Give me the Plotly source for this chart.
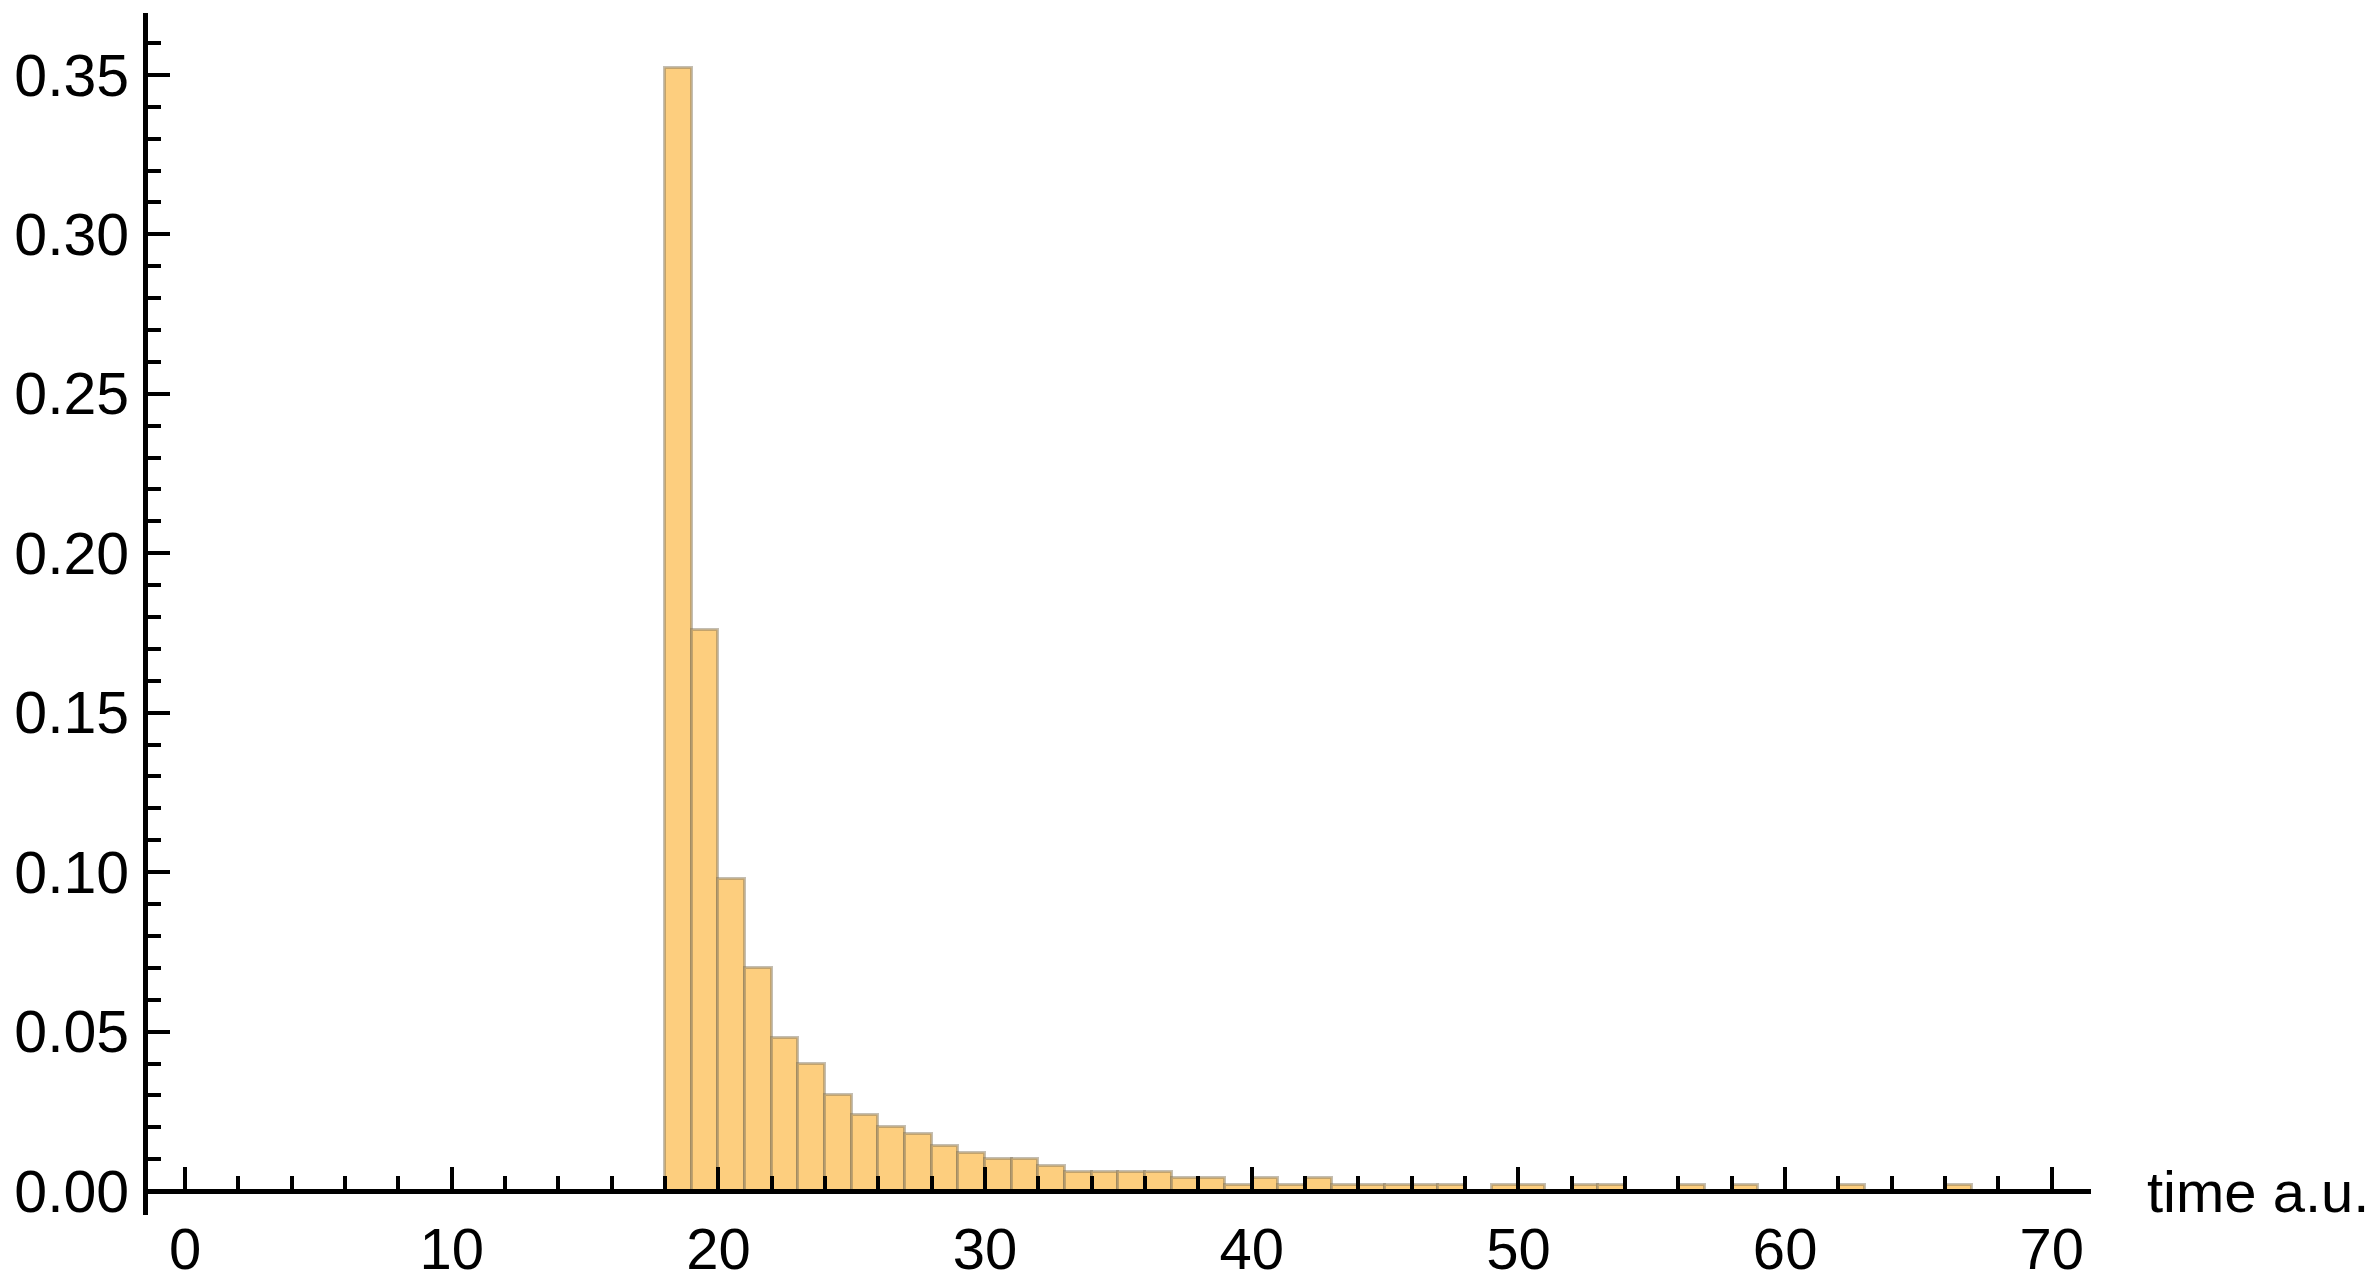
import plotly.graph_objects as go

# Histogram data (bin width 1, left edges) — fraction of samples per bin
bin_left = list(range(18, 67))
bin_frac = [
    0.352, 0.176, 0.098, 0.070, 0.048, 0.040, 0.030, 0.024, 0.020, 0.018,  # 18-27
    0.014, 0.012, 0.010, 0.010, 0.008, 0.006, 0.006, 0.006, 0.006, 0.004,  # 28-37
    0.004, 0.002, 0.004, 0.002, 0.004, 0.002, 0.002, 0.002, 0.002, 0.002,  # 38-47
    0.000, 0.002, 0.002, 0.000, 0.002, 0.002, 0.000, 0.000, 0.002, 0.000,  # 48-57
    0.002, 0.000, 0.000, 0.000, 0.002, 0.000, 0.000, 0.000, 0.002,         # 58-66
]
bin_width = 1.0

x_tickvals = [0, 10, 20, 30, 40, 50, 60, 70]
y_tickvals = [0.00, 0.05, 0.10, 0.15, 0.20, 0.25, 0.30, 0.35]
y_ticktext = ["0.00", "0.05", "0.10", "0.15", "0.20", "0.25", "0.30", "0.35"]
x_label = "time a.u."

xs = [l + bin_width / 2 for l, v in zip(bin_left, bin_frac) if v > 0]
ys = [v for v in bin_frac if v > 0]

FONT = "Liberation Sans, Arial, sans-serif"
FS = 58

fig = go.Figure()
fig.add_trace(go.Bar(
    x=xs, y=ys, width=bin_width,
    marker=dict(color="#FDCE7E", line=dict(color="rgba(125,110,85,0.45)", width=3)),
    hoverinfo="skip",
))

y_lo, y_hi = -0.0075, 0.3694
x_pos = (0 - y_lo) / (y_hi - y_lo)

fig.update_layout(
    width=2378, height=1283,
    margin=dict(l=148, r=287, t=13, b=68, autoexpand=False),
    plot_bgcolor="white", paper_bgcolor="white",
    showlegend=False,
    bargap=0,
    font=dict(family=FONT, size=FS, color="black"),
    xaxis=dict(
        range=[-1.39, 71.47],
        anchor="free", position=x_pos,
        automargin=False,
        showgrid=False, zeroline=False,
        showline=True, linecolor="black", linewidth=5,
        ticks="inside", ticklen=22, tickwidth=4, tickcolor="black",
        tickvals=x_tickvals, ticktext=[str(v) for v in x_tickvals],
        ticklabelstandoff=5,
        minor=dict(dtick=2, tick0=0, ticks="inside", ticklen=13, tickwidth=4, tickcolor="black"),
        tickfont=dict(family=FONT, size=FS, color="black"),
    ),
    yaxis=dict(
        range=[y_lo, y_hi],
        automargin=False,
        showgrid=False, zeroline=False,
        showline=True, linecolor="black", linewidth=5,
        ticks="inside", ticklen=22, tickwidth=4, tickcolor="black",
        tickvals=y_tickvals, ticktext=y_ticktext,
        ticklabelstandoff=2,
        minor=dict(dtick=0.01, tick0=0, ticks="inside", ticklen=13, tickwidth=4, tickcolor="black"),
        tickfont=dict(family=FONT, size=59, color="black"),
    ),
    annotations=[dict(
        text=x_label, xref="paper", yref="paper",
        x=1.0278, y=x_pos, xanchor="left", yanchor="middle",
        showarrow=False, font=dict(family=FONT, size=FS, color="black"),
    )],
)

fig.write_html(
    "out.html",
    config={"displayModeBar": False},
    post_script="document.body.style.margin='0';document.body.style.overflow='hidden';",
)
